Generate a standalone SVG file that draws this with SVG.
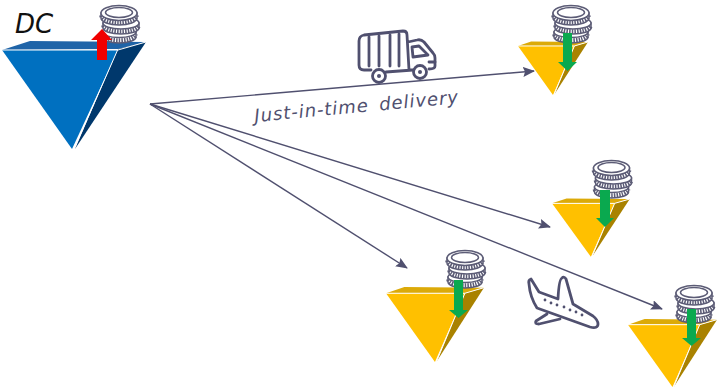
<svg xmlns="http://www.w3.org/2000/svg" xmlns:xlink="http://www.w3.org/1999/xlink" width="718" height="390" viewBox="0 0 718 390">
<style>
.ln{fill:none;stroke:#50506f;stroke-width:1.4}
.ic{fill:none;stroke:#50506f;stroke-width:2.800;stroke-linejoin:round;stroke-linecap:round}
.lab{font-family:"DejaVu Sans",sans-serif;font-style:italic;fill:#50506f}
.coin{fill:#fff;stroke:#5c5c76;stroke-width:1.5}
.rib{fill:none;stroke:#5c5c76;stroke-width:4.500;stroke-dasharray:1.500 1.100}
.gr{fill:#0aa94f}
.edge{fill:none;stroke:#fff;stroke-width:1}
</style>
<defs>
<marker id="ah" viewBox="0 0 12 10" refX="11" refY="5" markerWidth="12" markerHeight="10" markerUnits="userSpaceOnUse" orient="auto"><path d="M0 0L12 5L0 10L2 5Z" fill="#50506f"/></marker>
<g id="coins">
<path class="coin" d="M2 29V34A17 6 0 0 0 36 34V29Z"/><path class="rib" d="M2.500 31.500A16.500 6 0 0 0 35.500 31.500"/><ellipse class="coin" cx="19" cy="29" rx="17" ry="5.500"/>
<path class="coin" d="M3 20V25A18 6 0 0 0 39 25V20Z"/><path class="rib" d="M3.500 22.500A17.500 6 0 0 0 38.500 22.500"/><ellipse class="coin" cx="21" cy="20" rx="18" ry="6"/>
<path class="coin" d="M1 10V15A18 7 0 0 0 37 15V10Z"/><path class="rib" d="M1.500 12.500A17.500 7 0 0 0 36.500 12.500"/><ellipse class="coin" cx="19" cy="10" rx="18" ry="7.500" stroke-width="2"/><ellipse class="coin" cx="19" cy="9.500" rx="13.500" ry="5"/>
</g>
<g id="pyrY">
<path d="M0 9L27 0L144 1L116 9Z" fill="#dcaa08"/>
<path d="M0 9H116L72 108Z" fill="#ffc000"/>
<path d="M144 1L74 108L116 9Z" fill="#a98200"/>
<path class="edge" d="M0 9H116L144 1M116 9L74 108" vector-effect="non-scaling-stroke"/>
</g>
</defs>
<g id="connectors">
<path class="ln" d="M150 104L534 71" marker-end="url(#ah)"/>
<path class="ln" d="M150 104L550 227" marker-end="url(#ah)"/>
<path class="ln" d="M150 104L407 268" marker-end="url(#ah)"/>
<path class="ln" d="M150 104L662 309" marker-end="url(#ah)"/>
</g>
<g id="dc">
<path d="M2 50L30 41L146 42L118 49Z" fill="#1f64a8"/>
<path d="M2 50H118L72 149Z" fill="#0070c0"/>
<path d="M146 42L75 149L118 49Z" fill="#00386c"/>
<path class="edge" d="M2 50H118L146 42M118 49L75 147"/>
<use href="#coins" transform="translate(100,3)"/>
<path d="M97 60V40H91L102 29L112 40H107V60Z" fill="#f00000"/>
<text x="15" y="33" font-size="26" font-family="DejaVu Sans,sans-serif" font-style="italic" fill="#111">DC</text>
</g>
<g id="store1">
<use href="#pyrY" transform="translate(518,41.5) scale(.486,.495)"/>
<use href="#coins" transform="translate(552,3)"/>
<path class="gr" d="M563 33H572V62H577L567.500 71L558 62H563Z"/>
</g>
<g id="store2">
<use href="#pyrY" transform="translate(552,198.500) scale(.54,.54)"/>
<use href="#coins" transform="translate(592.500,158)"/>
<path class="gr" d="M600 190H610V218H614L605 227L596 218H600Z"/>
</g>
<g id="store3">
<use href="#pyrY" transform="translate(386,287) scale(.68,.695)"/>
<use href="#coins" transform="translate(446,248)"/>
<path class="gr" d="M454 280H463V310H468L458.500 318L449 310H454Z"/>
</g>
<g id="store4">
<use href="#pyrY" transform="translate(628,319) scale(.618,.63)"/>
<use href="#coins" transform="translate(675,283)"/>
<path class="gr" d="M687 309H696V338H701L691.500 346L682 338H687Z"/>
</g>
<g id="truck">
<path class="ic" d="M371 70H364Q359 70 359 65V41Q359 36 364 35L403 31Q407 31 407 35L409 70L413 70M408 42L417 40Q421 39 424 42L433 53Q435 55 435 58V66Q435 69 429 69M386 72L413 70"/>
<path class="ic" d="M369 37V66M379 36V66M390 35V66M399 34V66M412 47L419 46L428 55L413 57ZM429 62H435"/>
<circle class="ic" cx="379" cy="76" r="6.500"/><circle cx="379" cy="76" r="2" fill="#50506f"/>
<circle class="ic" cx="420" cy="72" r="6.500"/><circle cx="420" cy="72" r="2" fill="#50506f"/>
</g>
<g id="plane">
<path class="ic" d="M531 279Q528 280 529 284Q530 297 537 308L590 327Q598 329 598 324Q598 320 593 316L573 304L566 279Q564 276 562 278Q559 279 558 299L539 292Z"/>
<path class="ic" d="M547 314L536 321Q534 324 539 324L560 319"/>
<path d="M545 300l0 .1M551 303l0 .1M557 305l0 .1M564 307l0 .1M570 310l0 .1M576 312l0 .1M582 315l0 .1" fill="none" stroke="#50506f" stroke-width="2.800" stroke-linecap="round"/>
</g>
<text class="lab" font-size="18" transform="translate(255,122) rotate(-5.300)" letter-spacing=".95" word-spacing="4">Just-in-time delivery</text>
</svg>
